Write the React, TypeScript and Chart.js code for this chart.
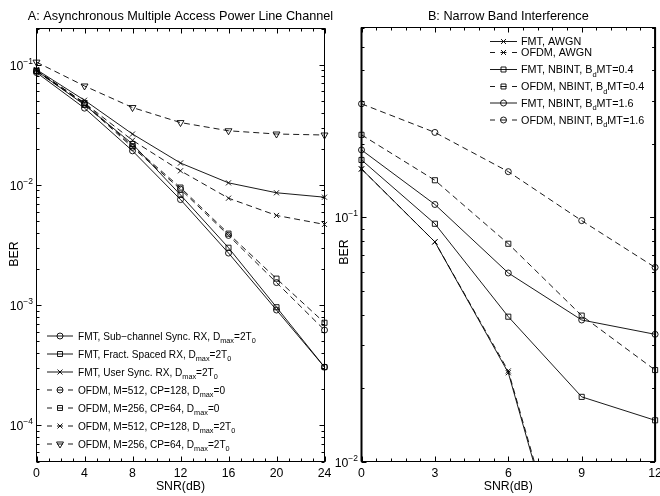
import React, { useEffect, useRef } from 'react';
import { Chart, registerables } from 'chart.js';

Chart.register(...registerables);

const FONT = "'Liberation Sans', Arial, Helvetica, sans-serif";

// ---------- Panel A data ----------
const snrA = [0, 4, 8, 12, 16, 20, 24];
const fmtSubSync = [0.086, 0.0435, 0.0192, 0.00755, 0.00271, 0.00091, 0.000305];
const fmtFract = [0.089, 0.0463, 0.0219, 0.00826, 0.003, 0.00096, 0.000305];
const fmtUser = [0.091, 0.0506, 0.0265, 0.0152, 0.0104, 0.0086, 0.0079];
const ofdm512D0 = [0.088, 0.047, 0.0205, 0.0092, 0.0038, 0.00154, 0.00062];
const ofdm256D0 = [0.089, 0.048, 0.021, 0.0095, 0.00393, 0.00166, 0.000713];
const ofdm512D2 = [0.09, 0.048, 0.0235, 0.0131, 0.00775, 0.00557, 0.00469];
const ofdm256D2 = [0.105, 0.0665, 0.044, 0.033, 0.0282, 0.0265, 0.026];
const labelsA = [
  'FMT, Sub\u2212channel Sync. RX, D_{max}=2T_{0}',
  'FMT, Fract. Spaced RX, D_{max}=2T_{0}',
  'FMT, User Sync. RX, D_{max}=2T_{0}',
  'OFDM, M=512, CP=128, D_{max}=0',
  'OFDM, M=256, CP=64, D_{max}=0',
  'OFDM, M=512, CP=128, D_{max}=2T_{0}',
  'OFDM, M=256, CP=64, D_{max}=2T_{0}',
];
const xTicksA = [0, 4, 8, 12, 16, 20, 24];
const yDecadesA = [-4, -3, -2, -1];

// ---------- Panel B data ----------
const snrB = [0, 3, 6, 9, 12];
const fmtAwgn = [0.158, 0.0794, 0.0231, 0.002, null];
const ofdmAwgn = [0.158, 0.0794, 0.0235, 0.0021, null];
const fmtNb04 = [0.172, 0.0942, 0.0392, 0.0184, 0.01475];
const ofdmNb04 = [0.218, 0.142, 0.078, 0.0396, 0.0237];
const fmtNb16 = [0.189, 0.113, 0.0592, 0.038, 0.0332];
const ofdmNb16 = [0.292, 0.223, 0.154, 0.097, 0.0624];
const labelsB = [
  'FMT, AWGN',
  'OFDM, AWGN',
  'FMT, NBINT, B_{d}MT=0.4',
  'OFDM, NBINT, B_{d}MT=0.4',
  'FMT, NBINT, B_{d}MT=1.6',
  'OFDM, NBINT, B_{d}MT=1.6',
];
const xTicksB = [0, 3, 6, 9, 12];
const yDecadesB = [-2, -1];

type Seg = { t: string; s?: 'sub' | 'sup' };
function parseRich(str: string): Seg[] {
  const out: Seg[] = [];
  const re = /([_^])\{([^}]*)\}/g;
  let last = 0;
  let m: RegExpExecArray | null;
  while ((m = re.exec(str))) {
    if (m.index > last) out.push({ t: str.slice(last, m.index) });
    out.push({ t: m[2], s: m[1] === '_' ? 'sub' : 'sup' });
    last = m.index + m[0].length;
  }
  if (last < str.length) out.push({ t: str.slice(last) });
  return out;
}
function richWidth(ctx: CanvasRenderingContext2D, segs: Seg[], size: number, small: number) {
  let w = 0;
  for (const g of segs) {
    ctx.font = `${g.s ? small : size}px ${FONT}`;
    w += ctx.measureText(g.t).width;
  }
  return w;
}
function drawRich(
  ctx: CanvasRenderingContext2D, segs: Seg[], x: number, y: number,
  size: number, small: number, align: 'left' | 'right' | 'center' = 'left',
  subOff = 3, supOff = 5
) {
  const w = richWidth(ctx, segs, size, small);
  let cx = align === 'right' ? x - w : align === 'center' ? x - w / 2 : x;
  ctx.textAlign = 'left';
  ctx.textBaseline = 'alphabetic';
  for (const g of segs) {
    ctx.font = `${g.s ? small : size}px ${FONT}`;
    const dy = g.s === 'sub' ? subOff : g.s === 'sup' ? -supOff : 0;
    ctx.fillText(g.t, cx, y + dy);
    cx += ctx.measureText(g.t).width;
  }
}

function drawMarker(ctx: CanvasRenderingContext2D, style: string, x: number, y: number) {
  ctx.beginPath();
  if (style === 'circle') ctx.arc(x, y, 3, 0, Math.PI * 2);
  else if (style === 'rect') ctx.rect(x - 2.5, y - 2.5, 5, 5);
  else if (style === 'crossRot') {
    ctx.moveTo(x - 2.5, y - 2.5); ctx.lineTo(x + 2.5, y + 2.5);
    ctx.moveTo(x + 2.5, y - 2.5); ctx.lineTo(x - 2.5, y + 2.5);
  } else if (style === 'triangle') {
    ctx.moveTo(x - 3.5, y - 2); ctx.lineTo(x + 3.5, y - 2); ctx.lineTo(x, y + 4); ctx.closePath();
  }
  ctx.stroke();
}

interface SeriesDef { data: (number | null)[]; style: string; dashed: boolean; label: string }
interface PanelDef {
  title: string;
  xs: number[];
  series: SeriesDef[];
  xMin: number; xMax: number; yMin: number; yMax: number;
  xTicks: number[]; xMinorStep: number; yDecades: number[];
  padding: { left: number; right: number; top: number; bottom: number };
  legendRows: number[]; legendX0: number; legendX1: number; legendText: number;
  legendSize: number; legendSmall: number;
  berX: number; berY: number;
  thickSides: boolean;
  clipBottom: number;
}

const markerRadius: Record<string, number> = { circle: 3, rect: 3.6, crossRot: 3.6, triangle: 4 };

function makePlugin(p: PanelDef) {
  return {
    id: 'matlabFrame',
    afterDatasetsDraw(chart: any) {
      const ctx: CanvasRenderingContext2D = chart.ctx;
      const a = chart.chartArea;
      const xs = chart.scales.x;
      const ys = chart.scales.y;
      ctx.save();
      ctx.strokeStyle = '#000';
      ctx.fillStyle = '#000';
      ctx.lineWidth = 1;
      const seg = (x1: number, y1: number, x2: number, y2: number) => {
        ctx.beginPath(); ctx.moveTo(x1, y1); ctx.lineTo(x2, y2); ctx.stroke();
      };
      // x ticks
      for (let v = p.xMin; v <= p.xMax + 1e-9; v += p.xMinorStep) {
        const x = Math.round(xs.getPixelForValue(v)) + 0.5;
        seg(x, a.bottom, x, a.bottom - 3);
        seg(x, a.top, x, a.top + 3);
      }
      for (const v of p.xTicks) {
        const x = Math.round(xs.getPixelForValue(v)) + 0.5;
        seg(x, a.bottom, x, a.bottom - 5);
        seg(x, a.top, x, a.top + 5);
      }
      // y ticks
      const d0 = Math.floor(Math.log10(p.yMin));
      const d1 = Math.ceil(Math.log10(p.yMax));
      for (let d = d0; d <= d1; d++) {
        for (let k = 1; k <= 9; k++) {
          const v = k * Math.pow(10, d);
          if (v < p.yMin * 0.999 || v > p.yMax * 1.001) continue;
          const y = Math.round(ys.getPixelForValue(v)) + 0.5;
          const len = k === 1 ? 5 : 3;
          seg(a.left, y, a.left + len, y);
          seg(a.right, y, a.right - len, y);
        }
      }
      // box
      ctx.strokeRect(a.left, a.top, a.right - a.left, a.bottom - a.top);
      if (p.thickSides) {
        ctx.lineWidth = 2;
        seg(a.left, a.top, a.left, a.bottom);
        seg(a.right, a.top, a.right, a.bottom);
        ctx.lineWidth = 1;
      }
      // x tick labels
      ctx.font = `12.3px ${FONT}`;
      ctx.textAlign = 'center';
      ctx.textBaseline = 'alphabetic';
      for (const v of p.xTicks) {
        ctx.fillText(String(v), xs.getPixelForValue(v), 476.5);
      }
      ctx.fillText('SNR(dB)', (a.left + a.right) / 2, 490);
      // y tick labels
      for (const d of p.yDecades) {
        const y = ys.getPixelForValue(Math.pow(10, d));
        drawRich(ctx, [{ t: '10' }, { t: '\u2212' + Math.abs(d), s: 'sup' }], a.left - 3.5, y + 5, 12.3, 8.5, 'right', 3, 6);
      }
      // BER
      ctx.save();
      ctx.translate(p.berX, p.berY);
      ctx.rotate(-Math.PI / 2);
      ctx.font = `12.3px ${FONT}`;
      ctx.textAlign = 'center';
      ctx.textBaseline = 'middle';
      ctx.fillText('BER', 0, 0);
      ctx.restore();
      // title
      ctx.font = `12.7px ${FONT}`;
      ctx.textAlign = 'center';
      ctx.textBaseline = 'alphabetic';
      ctx.fillText(p.title, (a.left + a.right) / 2, 19.5);
      // legend
      ctx.lineWidth = 0.9;
      p.series.forEach((s, i) => {
        const y = p.legendRows[i];
        const x0 = p.legendX0, x1 = p.legendX1, xm = (x0 + x1) / 2;
        if (s.dashed) {
          seg(x0, y, x0 + 5, y);
          seg(xm - 3, y, xm + 3, y);
          seg(x1 - 5, y, x1, y);
        } else {
          seg(x0, y, x1, y);
        }
        drawMarker(ctx, s.style, xm, y);
        drawRich(ctx, parseRich(s.label), p.legendText, y + p.legendSize * 0.36, p.legendSize, p.legendSmall, 'left', 3.5, 4);
      });
      ctx.restore();
    },
  };
}

function buildConfig(p: PanelDef): any {
  return {
    type: 'line',
    data: {
      datasets: p.series.map((s) => ({
        label: s.label,
        data: p.xs.map((x, i) => ({ x, y: s.data[i] })),
        borderColor: '#000',
        borderWidth: 0.9,
        borderDash: s.dashed ? [6, 4] : [],
        pointStyle: s.style,
        pointRotation: s.style === 'triangle' ? 180 : 0,
        pointRadius: markerRadius[s.style],
        pointBorderColor: '#000',
        pointBackgroundColor: 'rgba(0,0,0,0)',
        pointBorderWidth: 0.9,
        fill: false,
        tension: 0,
        spanGaps: false,
        clip: { left: 8, right: 8, top: 8, bottom: p.clipBottom },
      })),
    },
    options: {
      responsive: false,
      animation: false,
      events: [],
      layout: { padding: p.padding },
      plugins: { legend: { display: false }, tooltip: { enabled: false }, title: { display: false } },
      scales: {
        x: { type: 'linear', min: p.xMin, max: p.xMax, display: false },
        y: { type: 'logarithmic', min: p.yMin, max: p.yMax, display: false },
      },
    },
    plugins: [makePlugin(p)],
  };
}

const panelA: PanelDef = {
  title: 'A: Asynchronous Multiple Access Power Line Channel',
  xs: snrA,
  series: [
    { data: fmtSubSync, style: 'circle', dashed: false, label: labelsA[0] },
    { data: fmtFract, style: 'rect', dashed: false, label: labelsA[1] },
    { data: fmtUser, style: 'crossRot', dashed: false, label: labelsA[2] },
    { data: ofdm512D0, style: 'circle', dashed: true, label: labelsA[3] },
    { data: ofdm256D0, style: 'rect', dashed: true, label: labelsA[4] },
    { data: ofdm512D2, style: 'crossRot', dashed: true, label: labelsA[5] },
    { data: ofdm256D2, style: 'triangle', dashed: true, label: labelsA[6] },
  ],
  xMin: 0, xMax: 24, yMin: 5e-5, yMax: 0.2,
  xTicks: xTicksA, xMinorStep: 1, yDecades: yDecadesA,
  padding: { left: 36.5, right: 335.5, top: 28.5, bottom: 34.5 },
  legendRows: [336, 354, 372, 390, 408, 426, 444],
  legendX0: 47, legendX1: 73, legendText: 78,
  legendSize: 10.1, legendSmall: 7.3,
  berX: 15, berY: 254,
  thickSides: false,
  clipBottom: 8,
};

const panelB: PanelDef = {
  title: 'B: Narrow Band Interference',
  xs: snrB,
  series: [
    { data: fmtAwgn, style: 'crossRot', dashed: false, label: labelsB[0] },
    { data: ofdmAwgn, style: 'crossRot', dashed: true, label: labelsB[1] },
    { data: fmtNb04, style: 'rect', dashed: false, label: labelsB[2] },
    { data: ofdmNb04, style: 'rect', dashed: true, label: labelsB[3] },
    { data: fmtNb16, style: 'circle', dashed: false, label: labelsB[4] },
    { data: ofdmNb16, style: 'circle', dashed: true, label: labelsB[5] },
  ],
  xMin: 0, xMax: 12, yMin: 0.01, yMax: 0.6,
  xTicks: xTicksB, xMinorStep: 0.6, yDecades: yDecadesB,
  padding: { left: 361.5, right: 4.5, top: 27.5, bottom: 34.5 },
  legendRows: [41.5, 52.5, 69.5, 86.5, 103, 120],
  legendX0: 490, legendX1: 517, legendText: 521,
  legendSize: 10.8, legendSmall: 7.5,
  berX: 345, berY: 252,
  thickSides: true,
  clipBottom: 0,
};

function Panel({ def }: { def: PanelDef }) {
  const ref = useRef<HTMLCanvasElement>(null);
  useEffect(() => {
    const chart = new Chart(ref.current as HTMLCanvasElement, buildConfig(def));
    return () => chart.destroy();
  }, [def]);
  return (
    <canvas
      ref={ref}
      width={660}
      height={496}
      style={{ position: 'absolute', left: 0, top: 0, width: 660, height: 496 }}
    />
  );
}

export default function App() {
  return (
    <div style={{ position: 'fixed', left: 0, top: 0, width: 660, height: 496, background: '#fff' }}>
      <Panel def={panelA} />
      <Panel def={panelB} />
    </div>
  );
}
